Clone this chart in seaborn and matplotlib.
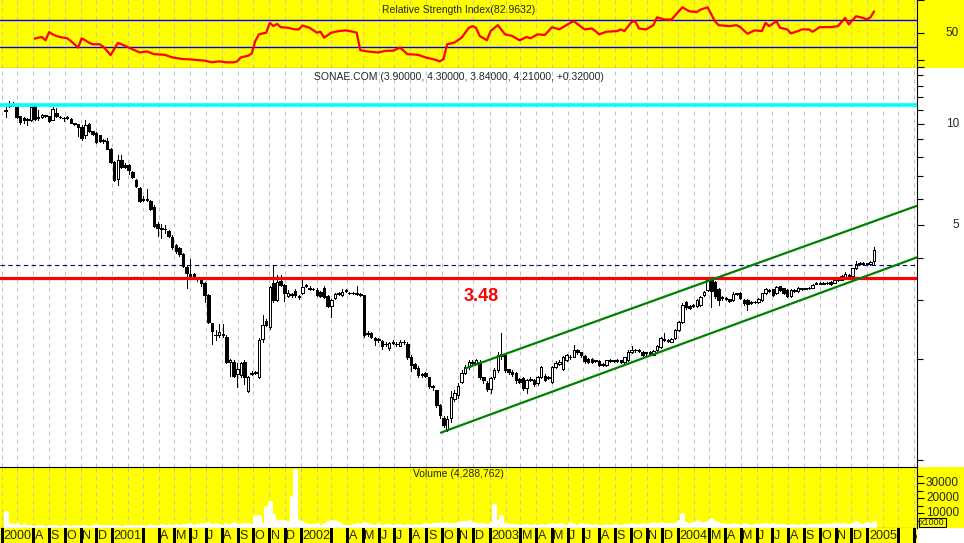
import numpy as np
import pandas as pd
import seaborn as sns
import matplotlib
matplotlib.use("Agg")
import matplotlib.pyplot as plt
import matplotlib.transforms as mtrans
from matplotlib.patches import Rectangle

sns.set_style("white")
plt.rcParams['font.family'] = ['Liberation Sans', 'DejaVu Sans']

# ---- weekly SONAE.COM candles (first week 2000-06-09) ----
open_ = [11.0, 11.35, 11.5, 11.25, 10.6, 10.4, 10.35, 10.28, 11.3, 10.4,
         10.5, 10.6, 10.55, 10.3, 10.8, 10.5, 10.45, 10.45, 10.35, 10.05,
         9.98, 9.82, 9.27, 10.0, 9.5, 9.4, 9.25, 8.95, 8.9, 8.45,
         7.7, 6.85, 7.8, 7.55, 7.55, 7.2, 6.81, 6.43, 5.95, 6.0,
         5.9, 5.68, 5.05, 4.9, 4.88, 4.8, 4.62, 4.36, 4.27, 4.1,
         3.76, 3.58, 3.58, 3.5, 3.43, 3.36, 3.1, 2.55, 2.36, 2.36,
         2.37, 2.33, 1.96, 1.96, 1.8, 1.79, 1.96, 1.6, 1.8, 1.81,
         1.77, 2.29, 2.6, 2.48, 3.37, 3.0, 3.42, 3.32, 3.07, 3.12,
         3.19, 3.08, 3.14, 3.3, 3.25, 3.23, 3.21, 3.16, 3.25, 3.07,
         2.87, 3.04, 3.12, 3.1, 3.19, 3.15, 3.14, 3.12, 3.11, 3.09,
         2.37, 2.38, 2.3, 2.29, 2.26, 2.22, 2.16, 2.23, 2.22, 2.19,
         2.24, 2.22, 2.03, 1.93, 1.88, 1.8, 1.81, 1.76, 1.66, 1.61,
         1.46, 1.33, 1.24, 1.33, 1.52, 1.56, 1.71, 1.82, 1.89, 1.96,
         1.94, 1.96, 1.76, 1.7, 1.63, 1.76, 1.85, 2.04, 2.06, 1.86,
         1.83, 1.82, 1.74, 1.75, 1.64, 1.74, 1.73, 1.69, 1.76, 1.78,
         1.75, 1.71, 1.89, 1.93, 1.86, 1.98, 2.03, 2.03, 2.12, 2.09,
         2.04, 2.0, 2.0, 1.97, 1.97, 1.93, 1.92, 1.98, 1.97, 1.98,
         1.98, 1.96, 1.98, 2.1, 2.12, 2.13, 2.1, 2.08, 2.1, 2.06,
         2.12, 2.17, 2.29, 2.28, 2.25, 2.3, 2.43, 2.58, 2.95, 2.88,
         2.87, 2.88, 2.9, 3.1, 3.2, 3.43, 3.38, 3.23, 3.05, 3.04,
         3.01, 2.99, 3.13, 3.14, 3.0, 2.99, 2.94, 2.95, 2.95, 2.99,
         3.13, 3.2, 3.22, 3.14, 3.29, 3.24, 3.2, 3.07, 3.19, 3.18,
         3.24, 3.23, 3.24, 3.25, 3.34, 3.34, 3.36, 3.36, 3.38, 3.37,
         3.43, 3.44, 3.46, 3.55, 3.52, 3.72, 3.84, 3.86, 3.83, 3.82,
         3.90]
close = [10.9, 11.5, 11.4, 10.5, 10.15, 10.3, 10.3, 11.2, 10.35, 10.5,
         10.65, 10.62, 10.2, 11.1, 10.55, 10.48, 10.4, 10.5, 10.1, 9.98,
         9.8, 9.1, 9.93, 9.5, 9.35, 8.85, 8.9, 8.88, 8.45, 7.7,
         6.83, 7.8, 7.45, 7.45, 7.3, 6.95, 6.52, 5.9, 6.0, 5.95,
         5.58, 4.98, 4.9, 4.88, 4.87, 4.65, 4.3, 4.18, 4.1, 3.78,
         3.6, 3.5, 3.47, 3.46, 3.36, 3.1, 2.58, 2.42, 2.35, 2.4,
         2.35, 1.96, 1.98, 1.78, 1.86, 1.94, 1.77, 1.76, 1.82, 1.83,
         2.27, 2.53, 2.52, 3.28, 2.99, 3.38, 3.32, 3.14, 3.14, 3.1,
         3.09, 3.06, 3.28, 3.31, 3.23, 3.22, 3.09, 3.07, 3.05, 2.88,
         2.99, 3.12, 3.14, 3.17, 3.2, 3.13, 3.13, 3.13, 3.09, 2.35,
         2.39, 2.32, 2.28, 2.27, 2.19, 2.21, 2.23, 2.24, 2.21, 2.25,
         2.25, 2.03, 1.92, 1.88, 1.79, 1.79, 1.78, 1.66, 1.65, 1.46,
         1.36, 1.27, 1.32, 1.54, 1.58, 1.66, 1.82, 1.89, 1.96, 1.95,
         1.98, 1.76, 1.73, 1.63, 1.75, 1.85, 2.05, 2.07, 1.85, 1.83,
         1.8, 1.73, 1.71, 1.64, 1.73, 1.73, 1.68, 1.77, 1.89, 1.73,
         1.76, 1.89, 1.95, 1.96, 2.02, 2.05, 2.02, 2.13, 2.1, 2.05,
         1.97, 1.96, 1.96, 1.98, 1.92, 1.92, 1.98, 1.97, 1.98, 1.97,
         1.96, 2.02, 2.1, 2.12, 2.13, 2.11, 2.06, 2.09, 2.07, 2.11,
         2.19, 2.3, 2.28, 2.26, 2.29, 2.43, 2.57, 2.89, 2.85, 2.84,
         2.89, 3.0, 3.05, 3.17, 3.43, 3.18, 3.07, 2.99, 3.03, 3.01,
         2.98, 3.12, 3.12, 3.03, 2.93, 2.92, 2.96, 2.96, 3.02, 3.13,
         3.22, 3.19, 3.1, 3.27, 3.2, 3.14, 3.07, 3.2, 3.21, 3.25,
         3.23, 3.24, 3.25, 3.32, 3.37, 3.37, 3.35, 3.37, 3.34, 3.43,
         3.44, 3.54, 3.58, 3.52, 3.72, 3.84, 3.86, 3.82, 3.85, 3.89,
         4.21]
high = [11.2, 11.7, 11.6, 11.4, 10.6, 10.5, 10.4, 11.25, 11.4, 11.0,
        10.7, 10.65, 10.6, 11.2, 11.15, 10.55, 10.5, 10.55, 10.4, 10.1,
        10.0, 9.9, 10.28, 10.1, 9.55, 9.45, 9.3, 9.0, 9.1, 8.5,
        7.75, 8.1, 8.1, 7.65, 7.6, 7.25, 6.85, 6.5, 6.1, 6.4,
        5.95, 5.75, 5.1, 5.05, 5.0, 4.85, 4.68, 4.4, 4.3, 4.12,
        3.8, 3.97, 3.6, 3.5, 3.45, 3.38, 3.12, 2.56, 2.44, 2.54,
        2.54, 2.35, 2.0, 1.98, 1.95, 1.96, 1.99, 1.78, 1.84, 1.84,
        2.3, 2.7, 2.62, 3.3, 3.79, 3.55, 3.55, 3.35, 3.2, 3.15,
        3.22, 3.1, 3.43, 3.35, 3.3, 3.26, 3.24, 3.18, 3.29, 3.1,
        3.02, 3.14, 3.16, 3.22, 3.23, 3.17, 3.16, 3.29, 3.13, 3.1,
        2.42, 2.4, 2.32, 2.31, 2.27, 2.24, 2.25, 2.27, 2.24, 2.28,
        2.28, 2.25, 2.05, 1.95, 1.9, 1.82, 1.83, 1.77, 1.67, 1.62,
        1.47, 1.35, 1.35, 1.6, 1.62, 1.7, 1.85, 1.92, 1.98, 1.98,
        2.0, 1.98, 1.77, 1.72, 1.77, 1.88, 2.1, 2.39, 2.08, 1.87,
        1.85, 1.83, 1.75, 1.76, 1.74, 1.76, 1.74, 1.78, 1.9, 1.8,
        1.78, 1.9, 1.97, 1.98, 2.04, 2.07, 2.05, 2.2, 2.14, 2.1,
        2.05, 2.01, 2.01, 1.99, 1.98, 1.94, 1.99, 2.0, 1.99, 2.0,
        1.99, 2.03, 2.12, 2.18, 2.14, 2.14, 2.11, 2.1, 2.11, 2.13,
        2.2, 2.32, 2.39, 2.29, 2.31, 2.45, 2.6, 2.93, 2.98, 2.9,
        2.92, 3.02, 3.08, 3.19, 3.45, 3.48, 3.42, 3.26, 3.07, 3.06,
        3.02, 3.16, 3.15, 3.16, 3.02, 3.01, 2.98, 2.98, 3.03, 3.14,
        3.24, 3.22, 3.23, 3.29, 3.3, 3.26, 3.22, 3.22, 3.23, 3.27,
        3.26, 3.26, 3.27, 3.34, 3.39, 3.39, 3.38, 3.39, 3.4, 3.45,
        3.46, 3.56, 3.62, 3.57, 3.74, 3.92, 3.88, 3.88, 3.87, 3.92,
        4.30]
low = [10.5, 11.25, 11.3, 10.45, 9.98, 10.1, 9.9, 10.2, 10.3, 10.3,
       10.45, 10.5, 10.15, 10.25, 10.5, 10.45, 10.2, 10.35, 10.05, 9.9,
       9.2, 8.95, 9.1, 9.45, 9.3, 8.8, 8.85, 8.8, 8.4, 7.65,
       6.75, 6.6, 7.4, 7.4, 7.1, 6.9, 6.48, 5.85, 5.9, 5.9,
       5.55, 4.95, 4.63, 4.57, 4.75, 4.6, 4.25, 4.12, 4.05, 3.75,
       3.25, 3.45, 3.45, 3.4, 3.3, 2.96, 2.55, 2.22, 2.28, 2.33,
       2.33, 1.94, 1.78, 1.76, 1.65, 1.77, 1.68, 1.59, 1.79, 1.8,
       1.75, 2.25, 2.5, 2.46, 2.95, 2.97, 3.3, 2.97, 3.05, 3.05,
       3.05, 3.02, 3.12, 3.27, 3.2, 3.2, 3.07, 3.05, 3.03, 2.86,
       2.67, 3.02, 3.1, 3.08, 3.17, 3.11, 3.11, 3.1, 3.07, 2.33,
       2.34, 2.3, 2.2, 2.25, 2.14, 2.18, 2.13, 2.22, 2.19, 2.18,
       2.22, 2.0, 1.84, 1.86, 1.77, 1.77, 1.76, 1.64, 1.62, 1.44,
       1.33, 1.25, 1.22, 1.3, 1.5, 1.53, 1.69, 1.8, 1.87, 1.93,
       1.93, 1.74, 1.7, 1.6, 1.58, 1.74, 1.83, 2.0, 1.83, 1.8,
       1.78, 1.7, 1.69, 1.62, 1.58, 1.72, 1.66, 1.67, 1.75, 1.72,
       1.74, 1.7, 1.88, 1.92, 1.85, 1.97, 2.0, 2.02, 2.07, 2.03,
       1.95, 1.94, 1.94, 1.96, 1.9, 1.9, 1.91, 1.96, 1.96, 1.96,
       1.95, 1.95, 1.97, 2.08, 2.1, 2.09, 2.04, 2.06, 2.05, 2.05,
       2.11, 2.16, 2.26, 2.25, 2.24, 2.29, 2.42, 2.56, 2.82, 2.82,
       2.86, 2.86, 2.88, 3.08, 3.18, 2.85, 3.04, 2.89, 3.0, 2.99,
       2.96, 2.98, 3.1, 3.01, 2.9, 2.8, 2.92, 2.94, 2.93, 2.98,
       3.12, 3.17, 3.08, 3.12, 3.18, 3.12, 3.05, 3.05, 3.17, 3.17,
       3.21, 3.22, 3.23, 3.24, 3.33, 3.33, 3.33, 3.35, 3.32, 3.36,
       3.41, 3.43, 3.45, 3.5, 3.5, 3.7, 3.82, 3.8, 3.8, 3.8,
       3.84]
# volume in thousands of shares
volume = [11000, 2800, 2200, 3000, 1500, 1800, 1200, 1400, 1000, 1600,
          1300, 900, 1100, 1500, 1200, 1000, 1400, 1100, 900, 1300,
          1600, 1200, 1500, 1000, 1300, 1800, 1100, 1400, 1600, 1200,
          1500, 1300, 1000, 1400, 1200, 1600, 1100, 1500, 1300, 1000,
          1800, 1600, 1400, 2000, 1200, 1700, 1500, 1900, 1600, 2200,
          1800, 2500, 1600, 2000, 2800, 2400, 3200, 1800, 2600, 2200,
          1500, 2900, 2000, 3400, 1700, 2400, 2600, 3000, 2200, 7700,
          7700, 2500, 13700, 17300, 8900, 4400, 4400, 4800, 3800, 20700,
          38900, 4400, 3800, 2500, 1800, 2200, 2600, 1500, 2400, 4000,
          4400, 4400, 3200, 1800, 1200, 1500, 2000, 2600, 1700, 3100,
          2500, 2200, 1600, 2400, 1500, 1800, 2200, 1400, 2000, 1700,
          1500, 2300, 1600, 2000, 1400, 1800, 2500, 2200, 3000, 2700,
          3400, 2600, 3500, 3000, 2600, 3200, 4000, 4300, 4500, 3500,
          2800, 2400, 3000, 2200, 3300, 15500, 4400, 8200, 2500, 2000,
          1800, 2200, 1500, 2000, 1700, 1400, 2300, 1600, 1900, 1500,
          2000, 2400, 1800, 2700, 2200, 1600, 3300, 2000, 1500, 2500,
          2200, 1800, 1400, 2000, 1600, 1200, 1800, 1500, 2100, 1700,
          1400, 2000, 1900, 2600, 2200, 1800, 2400, 2000, 2800, 3500,
          2700, 3500, 2900, 2400, 3000, 2600, 4900, 9300, 3100, 2500,
          3100, 4900, 3500, 3500, 4000, 6300, 4000, 3100, 2400, 2000,
          1800, 2500, 2200, 1600, 2400, 2000, 1500, 2200, 1800, 2600,
          2400, 1900, 2800, 1700, 2300, 2000, 1500, 2200, 1800, 1600,
          2000, 1500, 1800, 2200, 1700, 2100, 1900, 2500, 2300, 2800,
          3000, 2700, 2900, 2200, 3000, 4000, 2400, 2000, 3100, 2600,
          4289]
# RSI (week number, value)
rsi_week = [8, 9, 10, 11, 12, 13, 14, 15, 17, 18, 20, 21, 22, 23, 24, 26, 27, 28, 29,
            31, 32, 33, 35, 37, 39, 41, 44, 46, 49, 51, 55, 57, 59, 61, 63, 64, 65,
            67, 68, 69, 70, 72, 73, 74, 75, 76, 78, 80, 81, 82, 84, 86, 87, 88, 90,
            92, 94, 96, 97, 98, 100, 103, 105, 107, 109, 111, 114, 116, 118, 120,
            121, 122, 124, 126, 128, 129, 130, 131, 133, 134, 136, 138, 140, 142,
            144, 145, 147, 149, 151, 153, 156, 157, 160, 162, 163, 164, 166, 169,
            170, 171, 173, 174, 175, 177, 179, 180, 182, 184, 187, 189, 191, 192,
            194, 196, 197, 200, 202, 203, 205, 207, 209, 210, 211, 213, 214, 216,
            217, 219, 220, 222, 223, 225, 228, 230, 232, 233, 235, 237, 238, 239, 240]
rsi_val = [42.0, 43.5, 44.5, 39.5, 51.9, 48.5, 46.0, 44.5, 42.5, 38.6, 28.7, 42.5, 39.5,
           36.1, 33.6, 33.6, 29.7, 23.8, 17.3, 35.6, 33.6, 31.2, 26.2, 21.3, 22.8, 18.8,
           17.8, 13.9, 11.4, 10.9, 9.0, 6.5, 8.0, 6.5, 6.5, 8.0, 13.9, 16.4, 19.8, 38.6,
           48.5, 51.0, 65.7, 60.8, 64.3, 59.3, 58.3, 55.9, 55.9, 61.8, 58.3, 51.0, 52.4,
           43.5, 51.0, 53.4, 54.4, 52.4, 51.0, 24.7, 22.8, 21.3, 23.8, 23.8, 28.7, 18.8,
           17.8, 13.9, 11.4, 8.0, 11.4, 33.6, 36.1, 43.5, 58.3, 60.8, 58.3, 46.0, 39.6,
           53.4, 62.3, 48.5, 46.0, 39.6, 44.5, 42.5, 48.5, 47.5, 59.3, 55.9, 65.7, 68.2,
           55.9, 57.3, 53.4, 48.5, 52.4, 53.4, 55.9, 53.4, 67.2, 68.2, 57.3, 55.9, 62.3,
           74.1, 70.7, 70.7, 89.0, 83.0, 82.0, 85.5, 89.0, 68.2, 62.3, 60.8, 62.3, 59.3,
           49.4, 54.4, 53.4, 65.7, 60.8, 68.2, 58.3, 55.9, 50.0, 53.4, 55.9, 55.9, 52.4,
           59.3, 59.3, 60.8, 73.1, 63.3, 75.6, 73.1, 70.7, 74.1, 82.96]

# horizontal studies and the trend channel
cyan_level = 11.41
red_level = 3.48
dash_level = 3.80
chan_low_dates = ["2002-09-29", "2005-04-07"]
chan_low_prices = [1.206, 4.01]
chan_up_dates = ["2002-11-16", "2005-04-07"]
chan_up_prices = [1.875, 5.71]

month_labels = ["2000", "", "A", "S", "O", "N", "D",
                "2001", "", "", "A", "M", "J", "J", "A", "S", "O", "N", "D",
                "2002", "", "", "A", "M", "J", "J", "A", "S", "O", "N", "D",
                "2003", "", "M", "A", "M", "J", "J", "A", "S", "O", "N", "D",
                "2004", "", "M", "A", "M", "J", "J", "A", "S", "O", "N", "D",
                "2005", "", "", "A"]

dates = pd.date_range("2000-06-09", periods=len(close), freq="7D")
months = pd.date_range("2000-06-01", periods=len(month_labels), freq="MS")
x_lo, x_hi = pd.Timestamp("2000-05-29"), pd.Timestamp("2005-04-07")

YEL = "#ffff00"
W, H = 964, 543
fig = plt.figure(figsize=(W / 100, H / 100), dpi=100)
fig.patch.set_facecolor("white")


def panel(y0, y1):
    return fig.add_axes([0, 1 - y1 / H, 917 / W, (y1 - y0) / H])


ax_rsi = panel(0, 68)
ax_main = panel(68, 467)
ax_vol = panel(467, 528)
ax_date = panel(528, 543)

# yellow right-hand margins of the RSI and volume panels
for y0, y1 in [(0, 68), (467, 528)]:
    fig.add_artist(Rectangle((917 / W, 1 - y1 / H), 47 / W, (y1 - y0) / H,
                             transform=fig.transFigure, fc=YEL, ec="none", zorder=-1))

for ax, fc in [(ax_rsi, YEL), (ax_main, "white"), (ax_vol, YEL), (ax_date, YEL)]:
    ax.set_facecolor(fc)
    ax.set_xlim(x_lo, x_hi)
    ax.set_xticks([])
    for s in ax.spines.values():
        s.set_visible(False)
        s.set_color("black")
        s.set_linewidth(0.8)

for ax in (ax_rsi, ax_main, ax_vol):
    ax.spines["right"].set_visible(True)
    ax.vlines(months, 0, 1, transform=ax.get_xaxis_transform(), color="#c0c0c0",
              lw=0.72, linestyle=(0, (4, 4)), zorder=0.5)
    ax.yaxis.set_ticks_position("right")
    ax.tick_params(axis="y", which="both", direction="out", width=0.8,
                   labelright=False, labelleft=False, left=False, color="black")
    ax.tick_params(axis="y", which="major", length=5)
    ax.tick_params(axis="y", which="minor", length=4)
ax_rsi.spines["bottom"].set_visible(True)
ax_vol.spines["bottom"].set_visible(True)
ax_vol.spines["top"].set_visible(True)

lab_x = 959 / W
def right_label(ax, val, txt):
    tr = mtrans.blended_transform_factory(fig.transFigure, ax.transData)
    ax.text(lab_x, val, txt, transform=tr, ha="right", va="center", fontsize=8.5)

# ---- RSI panel ----
ax_rsi.set_ylim(-2, 100)
ax_rsi.axhline(70, color="#0000ff", lw=1.0, zorder=1)
ax_rsi.axhline(30, color="#0000ff", lw=1.0, zorder=1)
sns.lineplot(x=dates[rsi_week], y=rsi_val, ax=ax_rsi, color="#ff0000",
             linewidth=1.6, zorder=3)
ax_rsi.set_xlabel("")
ax_rsi.set_ylabel("")
ax_rsi.set_xlim(x_lo, x_hi)
ax_rsi.set_xticks([])
ax_rsi.set_yticks([0, 10, 50, 100])
right_label(ax_rsi, 50, "50")
ax_rsi.text(0.5, 1 - 10 / 68, "Relative Strength Index(82.9632)", transform=ax_rsi.transAxes,
            ha="center", va="center", fontsize=7.5)

# ---- price panel ----
ax_main.set_yscale("log")
ax_main.set_ylim(0.953, 14.68)
ax_main.set_yticks([5, 10])
ax_main.set_yticks([1, 2, 3, 4, 6, 7, 8, 9, 11, 12, 13, 14], minor=True)
ax_main.tick_params(axis="y", which="both", labelright=False, labelleft=False)
right_label(ax_main, 10, "10")
right_label(ax_main, 5, "5")

o = np.array(open_); c = np.array(close)
hi = np.array(high); lo = np.array(low)
up = c >= o
body_lo = np.minimum(o, c)
body_h = np.abs(c - o)
ax_main.vlines(dates, lo, hi, color="black", lw=0.7, zorder=2, antialiased=False)
ax_main.bar(dates, body_h, bottom=body_lo, width=4.8,
            color=np.where(up, "white", "black"), edgecolor="black",
            linewidth=0.7, zorder=3, antialiased=False)

ax_main.axhline(cyan_level, color="#00ffff", lw=2.6, zorder=4)
ax_main.axhline(red_level, color="#ff0000", lw=2.3, zorder=4)
ax_main.axhline(dash_level, color="#000080", lw=0.8, linestyle=(0, (4, 3)), zorder=4)
ax_main.plot(pd.to_datetime(chan_low_dates), chan_low_prices, color="#008000", lw=1.6, zorder=4)
ax_main.plot(pd.to_datetime(chan_up_dates), chan_up_prices, color="#008000", lw=1.6, zorder=4)
ax_main.text(pd.Timestamp("2002-12-16"), 3.07, "3.48", color="#ff0000",
             fontsize=13, fontweight="bold", ha="center", va="center", zorder=5)
ax_main.text(0.5, 1 - 9 / 399, "SONAE.COM (3.90000, 4.30000, 3.84000, 4.21000, +0.32000)",
             transform=ax_main.transAxes, ha="center", va="center", fontsize=7.5)

# ---- volume panel ----
ax_vol.bar(dates, volume, width=3.8, color="#0000ff", zorder=2, antialiased=False)
ax_vol.set_ylim(0, 40700)
ax_vol.set_yticks([10000, 20000, 30000])
ax_vol.set_yticks([5000, 15000, 25000, 35000], minor=True)
for v in (30000, 20000, 10000):
    right_label(ax_vol, v, str(v))
fig.add_artist(Rectangle((919 / W, 1 - 527 / H), 27 / W, 9 / H, transform=fig.transFigure,
                         fc=YEL, ec="black", lw=0.8, zorder=5))
fig.text(932.5 / W, 1 - 522.5 / H, "x1000", ha="center", va="center", fontsize=6.5, zorder=6)
ax_vol.text(0.5, 1 - 7 / 61, "Volume (4,288,762)", transform=ax_vol.transAxes,
            ha="center", va="center", fontsize=7.5)

# ---- date strip ----
ax_date.set_ylim(0, 1)
ax_date.set_yticks([])
ax_date.vlines([m for m, t in zip(months, month_labels) if t != "" or m.month == 3],
               0, 1, color="black", lw=0.8, antialiased=False)
lab_tr = mtrans.offset_copy(ax_date.transData, fig=fig, x=1.5, y=0, units="dots")
for m, t in zip(months, month_labels):
    if t:
        ax_date.text(m, 0.45, t, transform=lab_tr, ha="left", va="center",
                     fontsize=9, clip_on=True)

fig.savefig("out.png", dpi=100, facecolor="white")
